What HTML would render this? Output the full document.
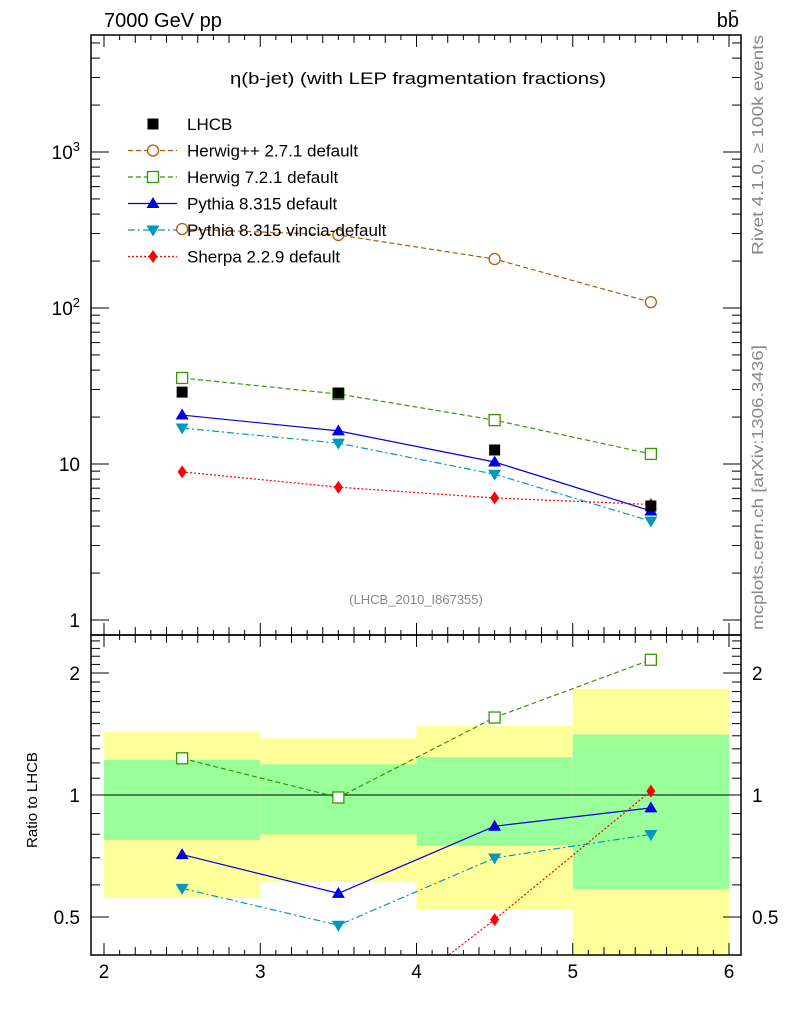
<!DOCTYPE html>
<html><head><meta charset="utf-8"><style>
body{margin:0;background:#fff;}
svg text{font-family:"Liberation Sans",sans-serif;}
</style></head><body>
<svg id="c" width="786" height="1024" xmlns="http://www.w3.org/2000/svg"></svg>
<script>
const xBins=[2,3,4,5,6];
const xCenters=[2.5,3.5,4.5,5.5];
const lhcb=[28.9,28.5,12.3,5.38];
const herwigpp=[321,294,206,109];
const herwig7=[35.6,28.1,19.1,11.6];
const pythia=[20.6,16.3,10.3,5.0];
const vincia=[17.0,13.6,8.6,4.3];
const sherpa=[8.9,7.1,6.06,5.5];
const bandYellowUp=[1.43,1.38,1.48,1.83];
const bandYellowDn=[0.557,0.61,0.52,0.3];
const bandGreenUp=[1.22,1.19,1.24,1.41];
const bandGreenDn=[0.774,0.80,0.75,0.586];
const xTickLabels=["2","3","4","5","6"];
const ratioTickVals=[0.5,1,2];

const NS="http://www.w3.org/2000/svg";
const svg=document.getElementById('c');
const L=91,R=741,T=35,M=635,B=955;
const X=v=>104+(v-2)*156.25;
const Y=v=>620-Math.log10(v)*156;
const RY=v=>795-Math.log2(v)*122;
function el(tag,attrs,parent,name,txt){const e=document.createElementNS(NS,tag);for(const k in attrs)e.setAttribute(k,attrs[k]);


if(txt!==undefined)e.textContent=txt;(parent||svg).appendChild(e);return e;}

const defs=el('defs',{},svg,'defs');
const cp1=el('clipPath',{id:'cm'},defs,'clip-main');el('rect',{x:L,y:T,width:R-L,height:M-T},cp1,'clip-rect');
const cp2=el('clipPath',{id:'cr'},defs,'clip-ratio');el('rect',{x:L,y:M,width:R-L,height:B-M},cp2,'clip-rect');

const gR=el('g',{'clip-path':'url(#cr)'},svg,'ratio-plot');
for(let i=0;i<4;i++){
 const x0=X(xBins[i]),x1=X(xBins[i+1]);
 el('rect',{x:x0,y:RY(bandYellowUp[i]),width:x1-x0,height:RY(bandYellowDn[i])-RY(bandYellowUp[i]),fill:'#ffff99'},gR,'uncertainty-band-total');
 el('rect',{x:x0,y:RY(bandGreenUp[i]),width:x1-x0,height:RY(bandGreenDn[i])-RY(bandGreenUp[i]),fill:'#99ff99'},gR,'uncertainty-band-stat');
}
el('line',{x1:L,x2:R,y1:RY(1),y2:RY(1),stroke:'#000','stroke-width':1},gR,'ratio-unity-line');

const gM=el('g',{'clip-path':'url(#cm)'},svg,'main-plot');
const series=[
 {d:herwigpp,c:'#b35900',dash:'5,3',m:'circle',n:'herwigpp'},
 {d:herwig7,c:'#339900',dash:'5,3',m:'square',n:'herwig7'},
 {d:pythia,c:'#0000e6',dash:'',m:'tri-up',n:'pythia'},
 {d:vincia,c:'#0099bb',dash:'7,3,2,3',m:'tri-down',n:'vincia'},
 {d:sherpa,c:'#ff0000',dash:'2,2',m:'diamond',n:'sherpa'}
];
function marker(g,m,x,y,c,name){
 if(m==='circle')el('circle',{cx:x,cy:y,r:5.5,fill:'#fff',stroke:c,'stroke-width':1.3},g,name);
 else if(m==='square')el('rect',{x:x-5.5,y:y-5.5,width:11,height:11,fill:'#fff',stroke:c,'stroke-width':1.3},g,name);
 else if(m==='tri-up')el('polygon',{points:`${x},${y-6.5} ${x-6.5},${y+4.5} ${x+6.5},${y+4.5}`,fill:c},g,name);
 else if(m==='tri-down')el('polygon',{points:`${x},${y+6.5} ${x-6.5},${y-4.5} ${x+6.5},${y-4.5}`,fill:c},g,name);
 else if(m==='diamond')el('polygon',{points:`${x},${y-6.5} ${x-4.5},${y} ${x},${y+6.5} ${x+4.5},${y}`,fill:c},g,name);
 else if(m==='sq-fill')el('rect',{x:x-5.5,y:y-5.5,width:11,height:11,fill:c},g,name);
}
series.forEach(s=>{
 el('polyline',{points:xCenters.map((x,i)=>X(x)+','+Y(s.d[i])).join(' '),fill:'none',stroke:s.c,'stroke-width':1.2,'stroke-dasharray':s.dash},gM,s.n+'-line');
 xCenters.forEach((x,i)=>marker(gM,s.m,X(x),Y(s.d[i]),s.c,s.n+'-point'));
 const r=s.d.map((v,i)=>v/lhcb[i]);
 el('polyline',{points:xCenters.map((x,i)=>X(x)+','+RY(r[i])).join(' '),fill:'none',stroke:s.c,'stroke-width':1.2,'stroke-dasharray':s.dash},gR,s.n+'-ratio-line');
 xCenters.forEach((x,i)=>marker(gR,s.m,X(x),RY(r[i]),s.c,s.n+'-ratio-point'));
});
xCenters.forEach((x,i)=>marker(gM,'sq-fill',X(x),Y(lhcb[i]),'#000','lhcb-point'));

el('rect',{x:L,y:T,width:R-L,height:M-T,fill:'none',stroke:'#000','stroke-width':1.5},svg,'main-frame');
el('rect',{x:L,y:M,width:R-L,height:B-M,fill:'none',stroke:'#000','stroke-width':1.5},svg,'ratio-frame');
for(let k=19;k<=61;k++){const v=k/10,x=X(v);if(x<L||x>R)continue;
 const len=(k%10===0)?12:(k%2===0?8:5);
 [[M,-1],[T,1],[B,-1],[M,1]].forEach(([y,d])=>el('line',{x1:x,x2:x,y1:y,y2:y+d*len,stroke:'#000'},svg,'x-tick'));}
xTickLabels.forEach((t,i)=>el('text',{x:X(xBins[i]),y:978,'font-size':19,'text-anchor':'middle'},svg,'x-tick-label',t));
for(let e=0;e<4;e++)for(let m=1;m<10;m++){const v=m*Math.pow(10,e),y=Y(v);if(y<T||y>M)continue;
 const len=m===1?18:9;
 el('line',{x1:L,x2:L+len,y1:y,y2:y,stroke:'#000'},svg,'y-tick');
 el('line',{x1:R,x2:R-len,y1:y,y2:y,stroke:'#000'},svg,'y-tick');}
el('text',{x:80,y:627,'font-size':19,'text-anchor':'end'},svg,'y-tick-label','1');
el('text',{x:80,y:471,'font-size':19,'text-anchor':'end'},svg,'y-tick-label','10');
const t2=el('text',{x:80,y:315,'font-size':19,'text-anchor':'end'},svg,'y-tick-label','10');el('tspan',{dy:-8,'font-size':13},t2,'exp','2');
const t3=el('text',{x:80,y:159,'font-size':19,'text-anchor':'end'},svg,'y-tick-label','10');el('tspan',{dy:-8,'font-size':13},t3,'exp','3');
for(let k=4;k<=25;k++){const v=k/10,y=RY(v);if(y<M||y>B)continue;
 const len=(k===5||k===10||k===20)?18:9;
 el('line',{x1:L,x2:L+len,y1:y,y2:y,stroke:'#000'},svg,'ratio-tick');
 el('line',{x1:R,x2:R-len,y1:y,y2:y,stroke:'#000'},svg,'ratio-tick');}
ratioTickVals.forEach(v=>{
 el('text',{x:80,y:RY(v)+7,'font-size':19,'text-anchor':'end'},svg,'ratio-tick-label',String(v));
 el('text',{x:752,y:RY(v)+7,'font-size':19},svg,'ratio-tick-label',String(v));});
el('text',{x:0,y:0,'font-size':15,'text-anchor':'middle',transform:'translate(37,800) rotate(-90)'},svg,'ratio-axis-title','Ratio to LHCB');
el('text',{x:104,y:27,'font-size':20},svg,'energy-label','7000 GeV pp');
el('text',{x:739,y:27,'font-size':20,'text-anchor':'end'},svg,'process-label','bb̄');
el('text',{x:418,y:84,'font-size':17,'text-anchor':'middle',textLength:376,lengthAdjust:'spacingAndGlyphs'},svg,'plot-title','η(b-jet) (with LEP fragmentation fractions)');
el('text',{x:416,y:604,'font-size':13,'text-anchor':'middle',fill:'#888'},svg,'analysis-id','(LHCB_2010_I867355)');
el('text',{x:0,y:0,'font-size':16,fill:'#888','text-anchor':'end',textLength:220,lengthAdjust:'spacingAndGlyphs',transform:'translate(763,35) rotate(-90)'},svg,'rivet-label','Rivet 4.1.0, ≥ 100k events');
el('text',{x:0,y:0,'font-size':16,fill:'#888','text-anchor':'end',textLength:285,lengthAdjust:'spacingAndGlyphs',transform:'translate(763,345) rotate(-90)'},svg,'mcplots-label','mcplots.cern.ch [arXiv:1306.3436]');
const lg=el('g',{},svg,'legend');
const labels=['LHCB','Herwig++ 2.7.1 default','Herwig 7.2.1 default','Pythia 8.315 default','Pythia 8.315 vincia-default','Sherpa 2.2.9 default'];
labels.forEach((t,i)=>{const y=124+i*26.5;
 if(i===0)marker(lg,'sq-fill',153,y,'#000','legend-marker');
 else{const s=series[i-1];el('line',{x1:128,x2:177,y1:y,y2:y,stroke:s.c,'stroke-width':1.2,'stroke-dasharray':s.dash},lg,'legend-line');marker(lg,s.m,153,y,s.c,'legend-marker');}
 el('text',{x:187,y:y+6,'font-size':17},lg,'legend-entry',t);});
</script>
</body></html>
